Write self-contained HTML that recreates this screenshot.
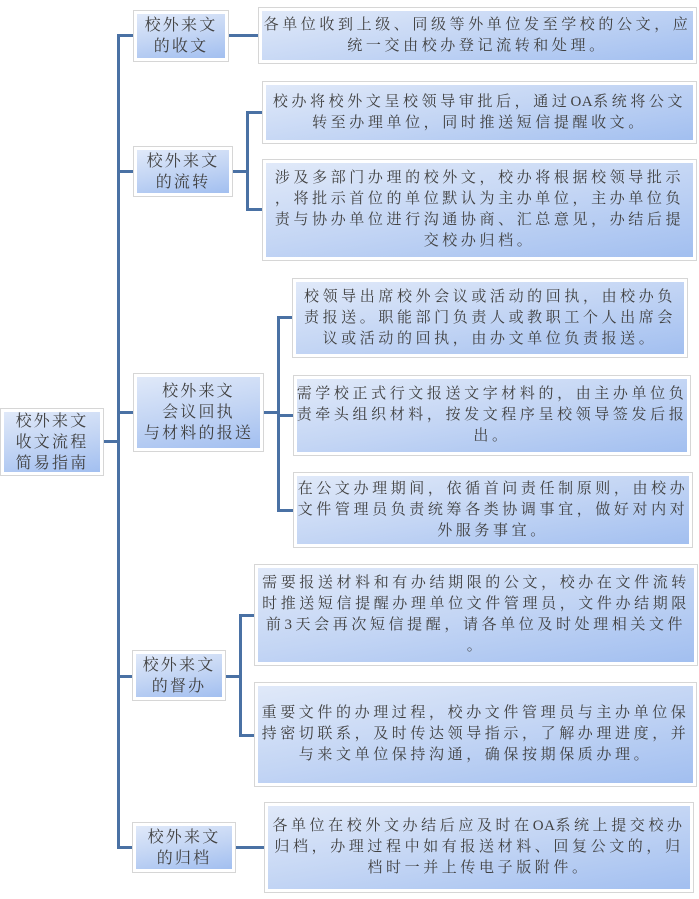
<!DOCTYPE html>
<html><head><meta charset="utf-8"><style>
body{margin:0;width:699px;height:899px;background:#fff;position:relative;overflow:hidden;font-family:"Liberation Serif","Noto Serif CJK SC","Noto Sans CJK SC",serif;color:#404040}
.b{position:absolute;box-sizing:border-box;border:3px solid #fff;outline:1px solid #d6d6d6;background:linear-gradient(170deg,#e0e9f9 0%,#c3d5f4 50%,#a2bff0 100%);display:flex;align-items:center;justify-content:center;text-align:center;white-space:nowrap}
.l{font-size:16px;letter-spacing:2.2px;line-height:21px}
.t{font-size:15px;letter-spacing:3.6px;line-height:21px}
.n{letter-spacing:0.5px}
.h{position:absolute;background:#4a71a4;height:3px}
.v{position:absolute;background:#4a71a4;width:3px}
</style></head><body>
<div class="v" style="left:117px;top:34px;height:815px"></div>
<div class="h" style="left:103px;top:440px;width:16px"></div>
<div class="h" style="left:117px;top:34px;width:18px"></div>
<div class="h" style="left:117px;top:170px;width:18px"></div>
<div class="h" style="left:117px;top:411px;width:18px"></div>
<div class="h" style="left:117px;top:675px;width:18px"></div>
<div class="h" style="left:117px;top:846px;width:18px"></div>
<div class="h" style="left:228px;top:34px;width:32px"></div>
<div class="h" style="left:232px;top:170px;width:16px"></div>
<div class="v" style="left:246px;top:111px;height:100px"></div>
<div class="h" style="left:246px;top:111px;width:18px"></div>
<div class="h" style="left:246px;top:208px;width:18px"></div>
<div class="h" style="left:262px;top:411px;width:17px"></div>
<div class="v" style="left:277px;top:316px;height:196px"></div>
<div class="h" style="left:277px;top:316px;width:17px"></div>
<div class="h" style="left:277px;top:414px;width:17px"></div>
<div class="h" style="left:277px;top:509px;width:17px"></div>
<div class="h" style="left:225px;top:675px;width:16px"></div>
<div class="v" style="left:239px;top:614px;height:123px"></div>
<div class="h" style="left:239px;top:614px;width:17px"></div>
<div class="h" style="left:239px;top:734px;width:17px"></div>
<div class="h" style="left:235px;top:846px;width:30px"></div>

<div class="b l" style="left:1px;top:409px;width:102px;height:66px"><div>校外来文<br>收文流程<br>简易指南</div></div>

<div class="b l" style="left:134px;top:11px;width:94px;height:50px"><div>校外来文<br>的收文</div></div>
<div class="b l" style="left:134px;top:147px;width:98px;height:49px"><div>校外来文<br>的流转</div></div>
<div class="b l" style="left:134px;top:374px;width:129px;height:77px"><div>校外来文<br>会议回执<br>与材料的报送</div></div>
<div class="b l" style="left:133px;top:651px;width:92px;height:49px"><div>校外来文<br>的督办</div></div>
<div class="b l" style="left:133px;top:823px;width:102px;height:49px"><div>校外来文<br>的归档</div></div>

<div class="b t" style="left:259px;top:8px;width:437px;height:55px"><div>各单位收到上级、同级等外单位发至学校的公文，应<br>统一交由校办登记流转和处理。</div></div>
<div class="b t" style="left:263px;top:82px;width:433px;height:61px"><div>校办将校外文呈校领导审批后，通过<span class="n">OA</span>系统将公文<br>转至办理单位，同时推送短信提醒收文。</div></div>
<div class="b t" style="left:263px;top:160px;width:433px;height:100px"><div>涉及多部门办理的校外文，校办将根据校领导批示<br>，将批示首位的单位默认为主办单位，主办单位负<br>责与协办单位进行沟通协商、汇总意见，办结后提<br>交校办归档。</div></div>
<div class="b t" style="left:293px;top:279px;width:394px;height:78px"><div>校领导出席校外会议或活动的回执，由校办负<br>责报送。职能部门负责人或教职工个人出席会<br>议或活动的回执，由办文单位负责报送。</div></div>
<div class="b t" style="left:294px;top:376px;width:396px;height:79px"><div>需学校正式行文报送文字材料的，由主办单位负<br>责牵头组织材料，按发文程序呈校领导签发后报<br>出。</div></div>
<div class="b t" style="left:294px;top:473px;width:398px;height:74px"><div>在公文办理期间，依循首问责任制原则，由校办<br>文件管理员负责统筹各类协调事宜，做好对内对<br>外服务事宜。</div></div>
<div class="b t" style="left:255px;top:565px;width:442px;height:100px"><div>需要报送材料和有办结期限的公文，校办在文件流转<br>时推送短信提醒办理单位文件管理员，文件办结期限<br>前3天会再次短信提醒，请各单位及时处理相关文件<br>。</div></div>
<div class="b t" style="left:255px;top:683px;width:441px;height:103px"><div>重要文件的办理过程，校办文件管理员与主办单位保<br>持密切联系，及时传达领导指示，了解办理进度，并<br>与来文单位保持沟通，确保按期保质办理。</div></div>
<div class="b t" style="left:265px;top:803px;width:428px;height:89px"><div>各单位在校外文办结后应及时在<span class="n">OA</span>系统上提交校办<br>归档，办理过程中如有报送材料、回复公文的，归<br>档时一并上传电子版附件。</div></div>
</body></html>
